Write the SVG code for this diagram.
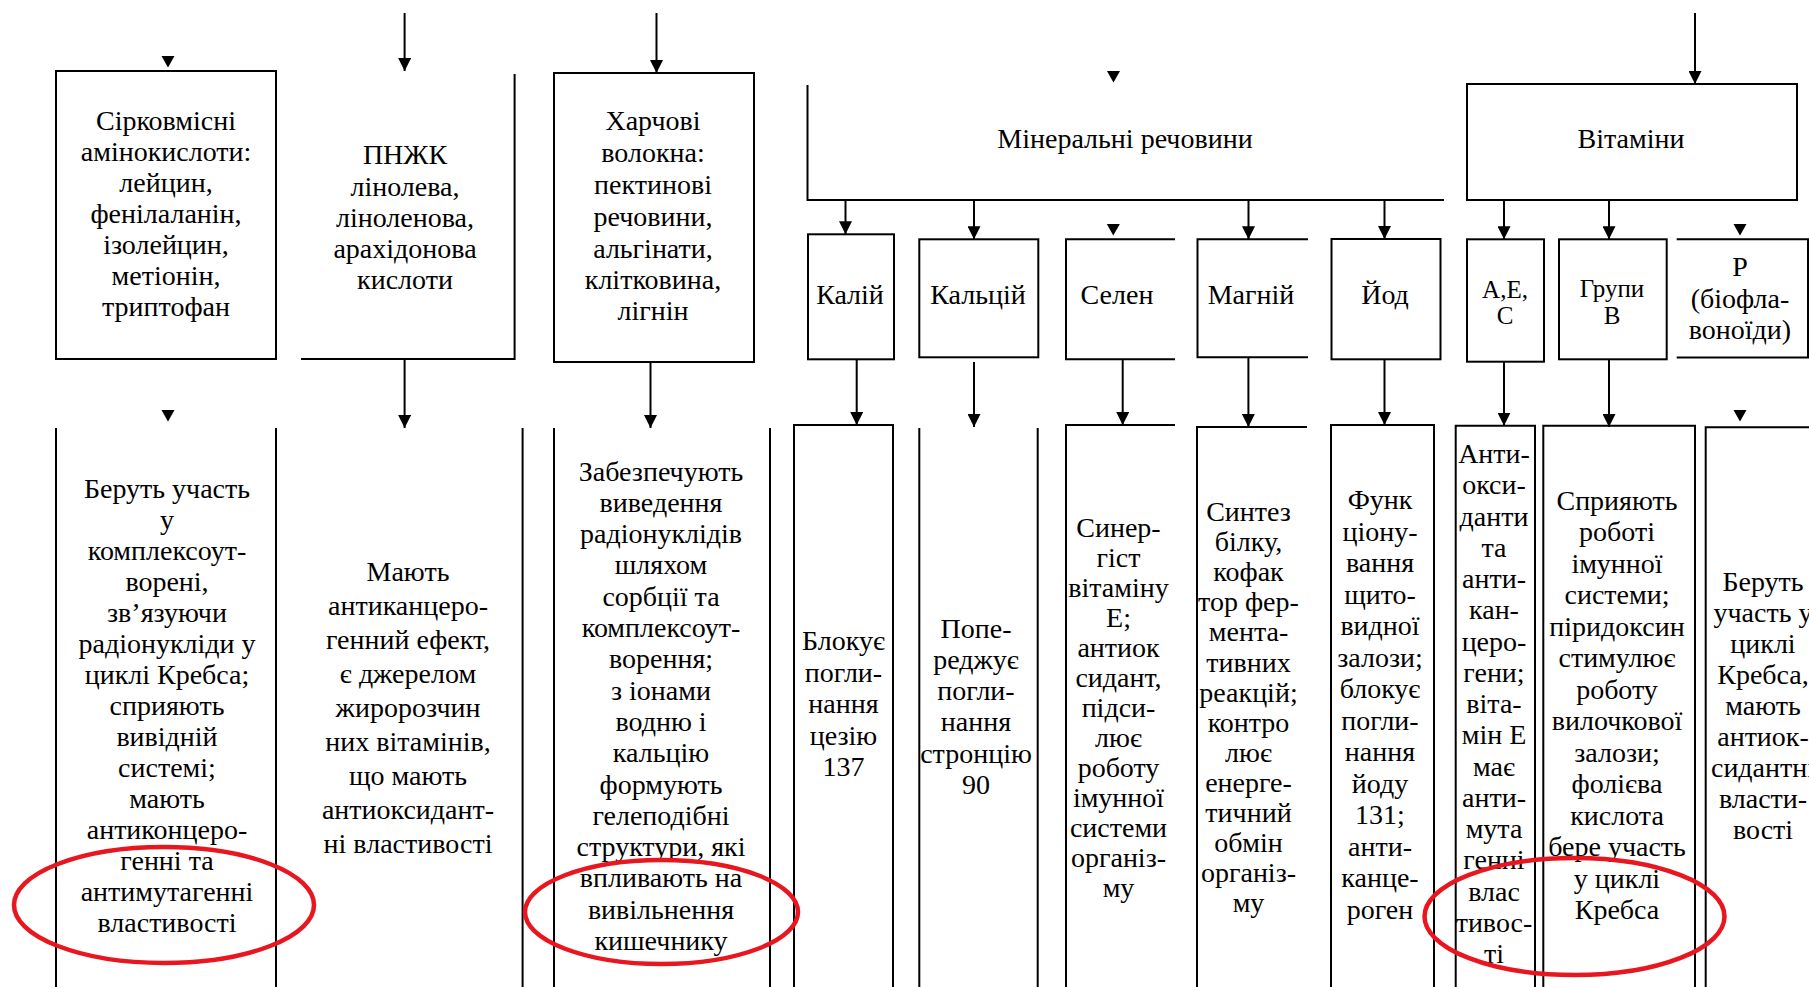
<svg xmlns="http://www.w3.org/2000/svg" width="1809" height="987" viewBox="0 0 1809 987">
  <defs>
    <marker id="ah" viewBox="0 0 13 13" markerWidth="13" markerHeight="13" refX="13" refY="6.5" orient="auto" markerUnits="userSpaceOnUse">
      <path d="M0,0 L13,6.5 L0,13 Z" fill="#000"/>
    </marker>
    <polygon id="tri" points="-6.5,0 6.5,0 0,11.5" fill="#000"/>
  </defs>
  <style>
    .ln{fill:none;stroke:#000;stroke-width:2}
    .ar{fill:none;stroke:#000;stroke-width:2;marker-end:url(#ah)}
    text{font-family:"Liberation Serif","Times New Roman",serif;font-size:28px;fill:#000;text-anchor:middle}
    .sm{font-size:25px}
    .ring{fill:none;stroke:#e8161e;stroke-width:4.5}
  </style>
  <rect width="1809" height="987" fill="#fff"/>

  <!-- upper row: source groups -->
  <g id="sulfur-amino">
    <rect class="ln" x="56" y="71" width="220" height="288"/>
    <text><tspan x="166" y="130">Сірковмісні</tspan><tspan x="166" y="161">амінокислоти:</tspan><tspan x="166" y="192">лейцин,</tspan><tspan x="166" y="223">фенілаланін,</tspan><tspan x="166" y="254">ізолейцин,</tspan><tspan x="166" y="285">метіонін,</tspan><tspan x="166" y="316">триптофан</tspan></text>
  </g>
  <g id="pufa">
    <path class="ln" d="M514.6,74 V359 H301"/>
    <text><tspan x="405" y="164">ПНЖК</tspan><tspan x="405" y="196">лінолева,</tspan><tspan x="405" y="227">ліноленова,</tspan><tspan x="405" y="258">арахідонова</tspan><tspan x="405" y="289">кислоти</tspan></text>
  </g>
  <g id="fiber">
    <rect class="ln" x="554" y="73" width="200" height="289"/>
    <text><tspan x="653" y="130">Харчові</tspan><tspan x="653" y="162">волокна:</tspan><tspan x="653" y="194">пектинові</tspan><tspan x="653" y="226">речовини,</tspan><tspan x="653" y="258">альгінати,</tspan><tspan x="653" y="289">клітковина,</tspan><tspan x="653" y="320">лігнін</tspan></text>
  </g>
  <g id="minerals">
    <path class="ln" d="M807.5,85 V200 H1444"/>
    <text x="1125" y="148">Мінеральні речовини</text>
  </g>
  <g id="vitamins">
    <rect class="ln" x="1467" y="84" width="330" height="116"/>
    <text x="1631" y="148">Вітаміни</text>
  </g>

  <!-- upper row: individual substances -->
  <g id="potassium">
    <rect class="ln" x="808" y="234.3" width="86" height="125"/>
    <text x="850" y="304">Калій</text>
  </g>
  <g id="calcium">
    <rect class="ln" x="919.3" y="239.3" width="119" height="118"/>
    <text x="978" y="304">Кальцій</text>
  </g>
  <g id="selenium">
    <path class="ln" d="M1175,239.3 H1066 V359.3 H1175"/>
    <text x="1117" y="304">Селен</text>
  </g>
  <g id="magnesium">
    <path class="ln" d="M1308,239.3 H1197.5 V357.3 H1308"/>
    <text x="1251" y="304">Магній</text>
  </g>
  <g id="iodine">
    <rect class="ln" x="1331.5" y="239" width="109" height="120.3"/>
    <text x="1385" y="304">Йод</text>
  </g>
  <g id="vit-aec">
    <rect class="ln" x="1467" y="239.3" width="77" height="122.4"/>
    <text class="sm"><tspan x="1505" y="298">А,Е,</tspan><tspan x="1505" y="324">С</tspan></text>
  </g>
  <g id="vit-b">
    <rect class="ln" x="1559" y="239.3" width="107.7" height="120"/>
    <text class="sm"><tspan x="1612" y="297">Групи</tspan><tspan x="1612" y="324">В</tspan></text>
  </g>
  <g id="vit-p">
    <path class="ln" d="M1676.7,239.3 H1808 V357.5 H1676.7"/>
    <text><tspan x="1740" y="276">Р</tspan><tspan x="1740" y="308">(біофла-</tspan><tspan x="1740" y="339">воноїди)</tspan></text>
  </g>

  <!-- lower row: effects -->
  <g id="sulfur-amino-effect">
    <path class="ln" d="M56,428 V987 M276,428 V987"/>
    <text><tspan x="167" y="497.5">Беруть участь</tspan><tspan x="167" y="528.5">у</tspan><tspan x="167" y="559.5">комплексоут-</tspan><tspan x="167" y="590.5">ворені,</tspan><tspan x="167" y="621.5">зв’язуючи</tspan><tspan x="167" y="652.5">радіонукліди у</tspan><tspan x="167" y="683.5">циклі Кребса;</tspan><tspan x="167" y="714.5">сприяють</tspan><tspan x="167" y="745.5">вивідній</tspan><tspan x="167" y="776.5">системі;</tspan><tspan x="167" y="807.5">мають</tspan><tspan x="167" y="838.5">антиконцеро-</tspan><tspan x="167" y="869.5">генні та</tspan><tspan x="167" y="900.5">антимутагенні</tspan><tspan x="167" y="931.5">властивості</tspan></text>
  </g>
  <g id="pufa-effect">
    <path class="ln" d="M522.6,428 V987"/>
    <text><tspan x="408" y="580.5">Мають</tspan><tspan x="408" y="614.5">антиканцеро-</tspan><tspan x="408" y="648.5">генний ефект,</tspan><tspan x="408" y="682.5">є джерелом</tspan><tspan x="408" y="716.5">жиророзчин</tspan><tspan x="408" y="750.5">них вітамінів,</tspan><tspan x="408" y="784.5">що мають</tspan><tspan x="408" y="818.5">антиоксидант-</tspan><tspan x="408" y="852.5">ні властивості</tspan></text>
  </g>
  <g id="fiber-effect">
    <path class="ln" d="M554,428 V987 M770,428 V987"/>
    <text><tspan x="661" y="480.5">Забезпечують</tspan><tspan x="661" y="511.8">виведення</tspan><tspan x="661" y="543.1">радіонуклідів</tspan><tspan x="661" y="574.4">шляхом</tspan><tspan x="661" y="605.7">сорбції та</tspan><tspan x="661" y="637">комплексоут-</tspan><tspan x="661" y="668.3">ворення;</tspan><tspan x="661" y="699.6">з іонами</tspan><tspan x="661" y="730.9">водню і</tspan><tspan x="661" y="762.2">кальцію</tspan><tspan x="661" y="793.5">формують</tspan><tspan x="661" y="824.8">гелеподібні</tspan><tspan x="661" y="856.1">структури, які</tspan><tspan x="661" y="887.4">впливають на</tspan><tspan x="661" y="918.7">вивільнення</tspan><tspan x="661" y="950">кишечнику</tspan></text>
  </g>
  <g id="potassium-effect">
    <path class="ln" d="M794,987 V425 H893 V987"/>
    <text><tspan x="843.5" y="650">Блокує</tspan><tspan x="843.5" y="681.5">погли-</tspan><tspan x="843.5" y="713">нання</tspan><tspan x="843.5" y="744.5">цезію</tspan><tspan x="843.5" y="776">137</tspan></text>
  </g>
  <g id="calcium-effect">
    <path class="ln" d="M919.3,428 V987 M1037.7,428 V987"/>
    <text><tspan x="976" y="637.5">Попе-</tspan><tspan x="976" y="668.8">реджує</tspan><tspan x="976" y="700.1">погли-</tspan><tspan x="976" y="731.4">нання</tspan><tspan x="976" y="762.7">стронцію</tspan><tspan x="976" y="794">90</tspan></text>
  </g>
  <g id="selenium-effect">
    <path class="ln" d="M1066,987 V425 H1175"/>
    <text><tspan x="1118.5" y="537">Синер-</tspan><tspan x="1118.5" y="567">гіст</tspan><tspan x="1118.5" y="597">вітаміну</tspan><tspan x="1118.5" y="627">Е;</tspan><tspan x="1118.5" y="657">антиок</tspan><tspan x="1118.5" y="687">сидант,</tspan><tspan x="1118.5" y="717">підси-</tspan><tspan x="1118.5" y="747">лює</tspan><tspan x="1118.5" y="777">роботу</tspan><tspan x="1118.5" y="807">імунної</tspan><tspan x="1118.5" y="837">системи</tspan><tspan x="1118.5" y="867">організ-</tspan><tspan x="1118.5" y="897">му</tspan></text>
  </g>
  <g id="magnesium-effect">
    <path class="ln" d="M1197,987 V427 H1307"/>
    <text><tspan x="1248.5" y="521">Синтез</tspan><tspan x="1248.5" y="551.1">білку,</tspan><tspan x="1248.5" y="581.2">кофак</tspan><tspan x="1248.5" y="611.3">тор фер-</tspan><tspan x="1248.5" y="641.4">мента-</tspan><tspan x="1248.5" y="671.5">тивних</tspan><tspan x="1248.5" y="701.6">реакцій;</tspan><tspan x="1248.5" y="731.7">контро</tspan><tspan x="1248.5" y="761.8">лює</tspan><tspan x="1248.5" y="791.9">енерге-</tspan><tspan x="1248.5" y="822">тичний</tspan><tspan x="1248.5" y="852.1">обмін</tspan><tspan x="1248.5" y="882.2">організ-</tspan><tspan x="1248.5" y="912.3">му</tspan></text>
  </g>
  <g id="iodine-effect">
    <path class="ln" d="M1331,987 V425 H1434 V987"/>
    <text><tspan x="1380" y="509">Функ</tspan><tspan x="1380" y="540.5">ціону-</tspan><tspan x="1380" y="572">вання</tspan><tspan x="1380" y="603.5">щито-</tspan><tspan x="1380" y="635">видної</tspan><tspan x="1380" y="666.5">залози;</tspan><tspan x="1380" y="698">блокує</tspan><tspan x="1380" y="729.5">погли-</tspan><tspan x="1380" y="761">нання</tspan><tspan x="1380" y="792.5">йоду</tspan><tspan x="1380" y="824">131;</tspan><tspan x="1380" y="855.5">анти-</tspan><tspan x="1380" y="887">канце-</tspan><tspan x="1380" y="918.5">роген</tspan></text>
  </g>
  <g id="vit-aec-effect">
    <path class="ln" d="M1455.7,987 V425.7 H1535 V987"/>
    <text><tspan x="1494" y="463">Анти-</tspan><tspan x="1494" y="494.25">окси-</tspan><tspan x="1494" y="525.5">данти</tspan><tspan x="1494" y="556.75">та</tspan><tspan x="1494" y="588">анти-</tspan><tspan x="1494" y="619.25">кан-</tspan><tspan x="1494" y="650.5">церо-</tspan><tspan x="1494" y="681.75">гени;</tspan><tspan x="1494" y="713">віта-</tspan><tspan x="1494" y="744.25">мін Е</tspan><tspan x="1494" y="775.5">має</tspan><tspan x="1494" y="806.75">анти-</tspan><tspan x="1494" y="838">мута</tspan><tspan x="1494" y="869.25">генні</tspan><tspan x="1494" y="900.5">влас</tspan><tspan x="1494" y="931.75">тивос-</tspan><tspan x="1494" y="963">ті</tspan></text>
  </g>
  <g id="vit-b-effect">
    <path class="ln" d="M1543.3,987 V425.7 H1695 V987"/>
    <text><tspan x="1617" y="509.5">Сприяють</tspan><tspan x="1617" y="541">роботі</tspan><tspan x="1617" y="572.5">імунної</tspan><tspan x="1617" y="604">системи;</tspan><tspan x="1617" y="635.5">піридоксин</tspan><tspan x="1617" y="667">стимулює</tspan><tspan x="1617" y="698.5">роботу</tspan><tspan x="1617" y="730">вилочкової</tspan><tspan x="1617" y="761.5">залози;</tspan><tspan x="1617" y="793">фолієва</tspan><tspan x="1617" y="824.5">кислота</tspan><tspan x="1617" y="856">бере участь</tspan><tspan x="1617" y="887.5">у циклі</tspan><tspan x="1617" y="919">Кребса</tspan></text>
  </g>
  <g id="vit-p-effect">
    <path class="ln" d="M1705.7,987 V427.3 H1809"/>
    <text><tspan x="1763" y="590.5">Беруть</tspan><tspan x="1763" y="621.5">участь у</tspan><tspan x="1763" y="652.5">циклі</tspan><tspan x="1763" y="683.5">Кребса,</tspan><tspan x="1763" y="714.5">мають</tspan><tspan x="1763" y="745.5">антиок-</tspan><tspan x="1763" y="776.5">сидантні</tspan><tspan x="1763" y="807.5">власти-</tspan><tspan x="1763" y="838.5">вості</tspan></text>
  </g>

  <!-- connectors -->
  <g id="connectors">
    <path class="ar" d="M404.6,13 V71"/>
    <path class="ar" d="M656.5,13 V73"/>
    <path class="ar" d="M1695,13 V84"/>
    <use href="#tri" x="168" y="56"/>
    <use href="#tri" x="1113.5" y="71"/>

    <path class="ar" d="M845.5,200 V234.3"/>
    <path class="ar" d="M974,200 V239.3"/>
    <use href="#tri" x="1113.3" y="224"/>
    <path class="ar" d="M1248.5,200 V239.3"/>
    <path class="ar" d="M1384.5,200 V239"/>

    <path class="ar" d="M1504,200 V239.3"/>
    <path class="ar" d="M1609,200 V239.3"/>
    <use href="#tri" x="1740" y="224"/>

    <use href="#tri" x="168" y="410"/>
    <path class="ar" d="M404.6,359 V428"/>
    <path class="ar" d="M650.5,362 V428"/>
    <path class="ar" d="M856.7,359.3 V425"/>
    <path class="ar" d="M974,362 V427"/>
    <path class="ar" d="M1122.7,359.3 V425"/>
    <path class="ar" d="M1248.4,357.3 V427"/>
    <path class="ar" d="M1384.5,359.3 V425"/>
    <path class="ar" d="M1504,361.7 V425.7"/>
    <path class="ar" d="M1609,359.3 V427"/>
    <use href="#tri" x="1740" y="410"/>
  </g>

  <!-- red highlight rings -->
  <g id="highlights">
    <ellipse class="ring" cx="164" cy="905" rx="150" ry="58"/>
    <ellipse class="ring" cx="661.5" cy="912" rx="136.5" ry="52"/>
    <ellipse class="ring" cx="1574.5" cy="916.5" rx="150" ry="58.5"/>
  </g>
</svg>
